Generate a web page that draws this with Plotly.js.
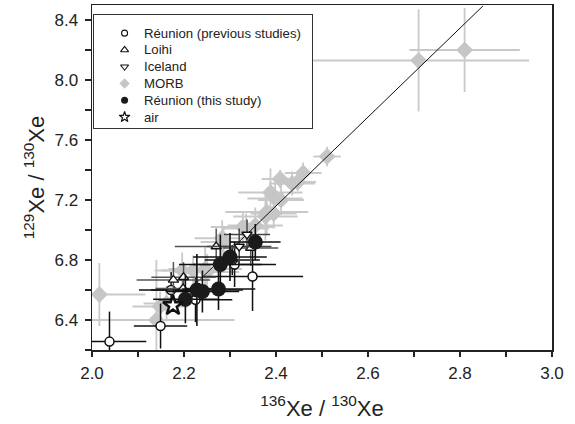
<!DOCTYPE html>
<html>
<head>
<meta charset="utf-8">
<script src="https://cdn.plot.ly/plotly-3.0.1.min.js"></script>
<style>html,body{margin:0;padding:0;background:#fff}#chart{width:575px;height:424px}</style>
</head>
<body>
<div id="chart"></div>
<script>
// MORB
var morbX  = [2.016, 2.140, 2.148, 2.162, 2.196, 2.220, 2.246, 2.250, 2.283, 2.286, 2.328, 2.335, 2.355, 2.377, 2.380, 2.395, 2.388, 2.398, 2.411, 2.409, 2.435, 2.447, 2.459, 2.511, 2.710, 2.810];
var morbY  = [6.57, 6.40, 6.49, 6.51, 6.73, 6.73, 6.74, 6.72, 6.945, 6.92, 7.02, 7.01, 7.03, 7.09, 7.12, 7.11, 7.25, 7.21, 7.20, 7.34, 7.31, 7.32, 7.38, 7.49, 8.13, 8.20];
var morbEX = [0.10, 0.17, 0.06, 0.05, 0.06, 0.07, 0.08, 0.07, 0.06, 0.05, 0.07, 0.05, 0.06, 0.07, 0.09, 0.05, 0.07, 0.06, 0.05, 0.04, 0.05, 0.04, 0.04, 0.03, 0.24, 0.12];
var morbEY = [0.21, 0.40, 0.10, 0.12, 0.12, 0.10, 0.15, 0.12, 0.12, 0.10, 0.10, 0.10, 0.12, 0.16, 0.15, 0.10, 0.16, 0.12, 0.10, 0.06, 0.08, 0.06, 0.07, 0.065, 0.34, 0.28];

// Réunion (previous studies)
var prevX  = [2.038, 2.149, 2.349, 2.172, 2.310, 2.305, 2.225];
var prevY  = [6.256, 6.360, 6.690, 6.600, 6.770, 6.800, 6.535];
var prevEX = [0.08, 0.058, 0.11, 0.07, 0.09, 0.06, 0.08];
var prevEY = [0.20, 0.15, 0.23, 0.12, 0.15, 0.10, 0.15];

// Loihi
var loihiX  = [2.177, 2.199, 2.198, 2.270, 2.345];
var loihiY  = [6.667, 6.685, 6.610, 6.890, 6.880];
var loihiEX = [0.08, 0.07, 0.06, 0.09, 0.06];
var loihiEY = [0.12, 0.10, 0.10, 0.12, 0.12];

// Iceland
var iceX  = [2.337, 2.320];
var iceY  = [6.970, 6.890];
var iceEX = [0.05, 0.07];
var iceEY = [0.10, 0.12];

// Réunion (this study)
var thisX  = [2.203, 2.228, 2.240, 2.275, 2.279, 2.300, 2.355];
var thisY  = [6.538, 6.600, 6.590, 6.607, 6.770, 6.820, 6.920];
var thisEX = [0.07, 0.10, 0.08, 0.08, 0.09, 0.08, 0.055];
var thisEY = [0.16, 0.24, 0.14, 0.14, 0.20, 0.16, 0.12];

// air
var airX = [2.176];
var airY = [6.496];

// mass fractionation line
var lineX = [2.176, 2.850];
var lineY = [6.496, 8.494];

// legend labels (top to bottom)
var names = ['Réunion (previous studies)', 'Loihi', 'Iceland', 'MORB', 'Réunion (this study)', 'air'];

var FONT = 'Liberation Sans, Arial, sans-serif';

function eb(arr, color, w) {
  return {type: 'data', array: arr, visible: true, color: color, thickness: w, width: 0};
}

var traces = [
  {x: morbX, y: morbY, mode: 'markers', type: 'scatter',
   error_x: eb(morbEX, '#c9c9c9', 1.8), error_y: eb(morbEY, '#c9c9c9', 1.8),
   marker: {symbol: 'diamond', size: 13, color: '#c6c6c6'}},
  {x: lineX, y: lineY, mode: 'lines', type: 'scatter',
   line: {color: '#111', width: 1}},
  {x: prevX, y: prevY, mode: 'markers', type: 'scatter',
   error_x: eb(prevEX, '#111', 1.5), error_y: eb(prevEY, '#111', 1.5),
   marker: {symbol: 'circle', size: 9, color: '#fff', line: {color: '#111', width: 1.5}}},
  {x: loihiX, y: loihiY, mode: 'markers', type: 'scatter',
   error_x: eb(loihiEX, '#555', 1.5), error_y: eb(loihiEY, '#555', 1.5),
   marker: {symbol: 'triangle-up', size: 9, color: '#fff', line: {color: '#111', width: 1.3}}},
  {x: iceX, y: iceY, mode: 'markers', type: 'scatter',
   error_x: eb(iceEX, '#444', 1.5), error_y: eb(iceEY, '#444', 1.5),
   marker: {symbol: 'triangle-down', size: 9, color: '#fff', line: {color: '#111', width: 1.3}}},
  {x: thisX, y: thisY, mode: 'markers', type: 'scatter',
   error_x: eb(thisEX, '#111', 1.6), error_y: eb(thisEY, '#111', 1.6),
   marker: {symbol: 'circle', size: 15, color: '#1a1a1a'}},
  {x: airX, y: airY, mode: 'markers', type: 'scatter',
   marker: {symbol: 'star', size: 15, color: '#fff', line: {color: '#111', width: 2.5}}}
];

// legend box drawn as a small inset subplot with categorical rows
var legendMarkers = [
  {symbol: 'circle', size: 6, color: '#fff', line: {color: '#111', width: 1.1}},
  {symbol: 'triangle-up', size: 7, color: '#fff', line: {color: '#111', width: 1.1}},
  {symbol: 'triangle-down', size: 7, color: '#fff', line: {color: '#111', width: 1.1}},
  {symbol: 'diamond', size: 8, color: '#c6c6c6'},
  {symbol: 'circle', size: 7, color: '#1a1a1a'},
  {symbol: 'star', size: 8, color: '#fff', line: {color: '#111', width: 1.2}}
];
var annotations = [];
names.forEach(function (n, i) {
  traces.push({x: [31], y: [n], xaxis: 'x3', yaxis: 'y3', mode: 'markers', type: 'scatter',
    marker: legendMarkers[i], hoverinfo: 'skip'});
  annotations.push({xref: 'x3', yref: 'y3', x: 48, y: n, text: n, showarrow: false,
    xanchor: 'left', yanchor: 'middle', font: {family: FONT, size: 13.2, color: '#222'}});
});

var axFont = {family: FONT, size: 17, color: '#222'};

var layout = {
  width: 575, height: 424,
  margin: {l: 92, r: 23, t: 5, b: 74, pad: 0},
  paper_bgcolor: '#fff', plot_bgcolor: '#fff',
  font: {family: FONT, color: '#222'},
  showlegend: false,
  annotations: annotations,
  xaxis: {range: [2, 3], dtick: 0.2, tick0: 2, tickformat: '.1f',
    ticks: 'outside', ticklen: 5, tickwidth: 1.2, tickcolor: '#222', ticklabelstandoff: 2,
    minor: {dtick: 0.1, ticks: 'outside', ticklen: 5, tickwidth: 1.2, tickcolor: '#222', showgrid: false},
    showgrid: false, zeroline: false, showline: true, linecolor: '#222', linewidth: 1.5, mirror: true,
    tickfont: axFont,
    title: {text: '<sup>136</sup>Xe / <sup>130</sup>Xe', font: {family: FONT, size: 22, color: '#222'}, standoff: 18}},
  yaxis: {range: [6.2, 8.5], dtick: 0.4, tick0: 6.4, tickformat: '.1f',
    ticks: 'outside', ticklen: 6, tickwidth: 1.2, tickcolor: '#222', ticklabelstandoff: 3,
    minor: {dtick: 0.2, ticks: 'outside', ticklen: 6, tickwidth: 1.2, tickcolor: '#222', showgrid: false},
    showgrid: false, zeroline: false, showline: true, linecolor: '#222', linewidth: 1.5, mirror: true,
    tickfont: axFont,
    title: {text: '<sup>129</sup>Xe / <sup>130</sup>Xe', font: {family: FONT, size: 22, color: '#222'}, standoff: 4}},
  xaxis2: {overlaying: 'x', anchor: 'y', side: 'top', range: [2, 3], dtick: 0.1, tick0: 2,
    ticks: 'inside', ticklen: 6, tickwidth: 1.2, tickcolor: '#222',
    showticklabels: false, showgrid: false, zeroline: false, showline: false},
  yaxis2: {overlaying: 'y', anchor: 'x', side: 'right', range: [6.2, 8.5], dtick: 0.2, tick0: 6.4,
    ticks: 'inside', ticklen: 6, tickwidth: 1.2, tickcolor: '#222',
    showticklabels: false, showgrid: false, zeroline: false, showline: false},
  xaxis3: {domain: [0.0035, 0.478], anchor: 'y3', range: [0, 218.5],
    showticklabels: false, ticks: '', showgrid: false, zeroline: false,
    showline: true, mirror: true, linecolor: '#333', linewidth: 1},
  yaxis3: {domain: [0.6435, 0.971], anchor: 'x3', type: 'category',
    categoryorder: 'array', categoryarray: names.slice().reverse(), range: [-0.65, 6.08],
    showticklabels: false, ticks: '', showgrid: false, zeroline: false,
    showline: true, mirror: true, linecolor: '#333', linewidth: 1}
};

Plotly.newPlot('chart', traces, layout, {displayModeBar: false, staticPlot: true});
</script>
</body>
</html>
